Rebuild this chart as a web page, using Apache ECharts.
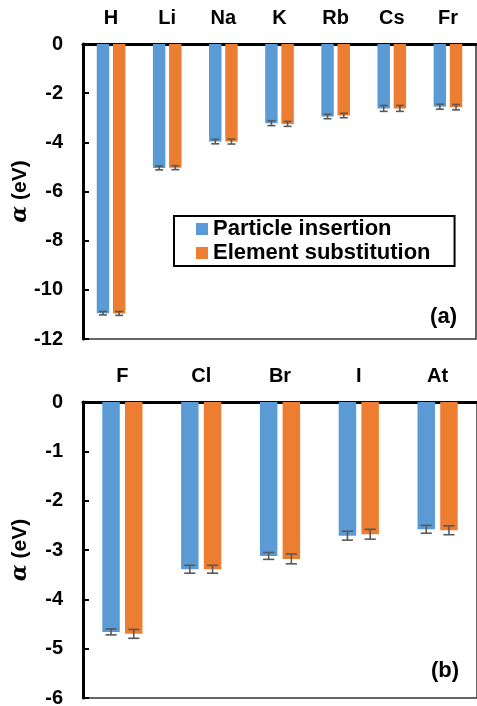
<!DOCTYPE html>
<html>
<head>
<meta charset="utf-8">
<script src="https://cdn.jsdelivr.net/npm/echarts@6/dist/echarts.min.js"></script>
<style>
  html, body { margin: 0; padding: 0; background: #fff; }
  #chart { width: 477px; height: 706px; }
</style>
</head>
<body>
<div id="chart"></div>
<script>
// panel (a): alkali metals + H
const catsA = ['H', 'Li', 'Na', 'K', 'Rb', 'Cs', 'Fr']
const insertA = [-10.95, -5.04, -3.97, -3.22, -2.95, -2.62, -2.55]
const substA = [-10.96, -5.03, -3.97, -3.25, -2.91, -2.62, -2.57]
const insertErrA = [0.07, 0.08, 0.09, 0.1, 0.09, 0.12, 0.1]
const substErrA = [0.08, 0.08, 0.1, 0.1, 0.09, 0.12, 0.11]

// panel (b): halogens
const catsB = ['F', 'Cl', 'Br', 'I', 'At']
const insertB = [-4.66, -3.39, -3.12, -2.71, -2.58]
const substB = [-4.70, -3.39, -3.18, -2.68, -2.60]
const insertErrB = [0.06, 0.08, 0.07, 0.09, 0.08]
const substErrB = [0.09, 0.08, 0.1, 0.1, 0.09]

const names = ['Particle insertion', 'Element substitution']
const colors = ['#5B9BD5', '#ED7D31']
const font = 'Liberation Sans, Arial, sans-serif'

const catGap = 0.49
const barGap = 0.3

function errItems (vals, errs) {
  return vals.map((v, i) => [i, v, errs[i]])
}

function errorSeries (idx, data, axis) {
  return {
    type: 'custom',
    xAxisIndex: axis,
    yAxisIndex: axis,
    z: 10,
    silent: true,
    data: data,
    encode: { x: 0, y: 1 },
    renderItem (params, api) {
      const x = api.value(0)
      const v = api.value(1)
      const e = api.value(2)
      const band = api.size([1, 0])[0]
      const w = band * (1 - catGap) / (2 + barGap)
      const off = (idx === 0 ? -1 : 1) * (0.5 + barGap / 2) * w
      const lo = api.coord([x, v - e])
      const hi = api.coord([x, v + e])
      const cx = lo[0] + off
      const h = w * 0.32
      const style = { stroke: '#595959', lineWidth: 1.6 }
      return {
        type: 'group',
        children: [
          { type: 'line', shape: { x1: cx, y1: lo[1], x2: cx, y2: hi[1] }, style },
          { type: 'line', shape: { x1: cx - h, y1: lo[1], x2: cx + h, y2: lo[1] }, style },
          { type: 'line', shape: { x1: cx - h, y1: hi[1], x2: cx + h, y2: hi[1] }, style }
        ]
      }
    }
  }
}

function barSeries (idx, data, axis) {
  return {
    name: names[idx],
    type: 'bar',
    xAxisIndex: axis,
    yAxisIndex: axis,
    data: data,
    barGap: (barGap * 100) + '%',
    barCategoryGap: (catGap * 100) + '%',
    itemStyle: { color: colors[idx] }
  }
}

function xAxisDef (cats, grid) {
  return {
    type: 'category',
    gridIndex: grid,
    data: cats,
    position: 'top',
    axisLine: { onZero: false, lineStyle: { color: '#000', width: 3 } },
    axisTick: { inside: true, length: 6, lineStyle: { color: '#000', width: 2 } },
    axisLabel: { color: '#000', fontFamily: font, fontWeight: 'bold', fontSize: 20, margin: 16 }
  }
}

function yAxisDef (min, step, grid) {
  return {
    type: 'value',
    gridIndex: grid,
    min: min,
    max: 0,
    interval: step,
    splitLine: { show: false },
    axisLine: { show: true, lineStyle: { color: '#000', width: 3 } },
    axisTick: { show: true, inside: true, length: 6, lineStyle: { color: '#000', width: 2 } },
    axisLabel: { color: '#000', fontFamily: font, fontWeight: 'bold', fontSize: 20, margin: 20 },
    name: '{a|α} (eV)',
    nameLocation: 'middle',
    nameGap: 52,
    nameRotate: 90,
    nameMoveOverlap: false,
    nameTextStyle: {
      color: '#000', fontFamily: font, fontWeight: 'bold', fontSize: 21,
      rich: { a: { fontFamily: 'DejaVu Serif', fontStyle: 'italic', fontSize: 22, color: '#000' } }
    }
  }
}

const chart = echarts.init(document.getElementById('chart'))
chart.setOption({
  animation: false,
  color: colors,
  grid: [
    { left: 83, top: 44, width: 393, height: 295, show: true, borderColor: '#333', borderWidth: 1.5, containLabel: false, outerBoundsMode: 'none' },
    { left: 83, top: 402, width: 394, height: 296, show: true, borderColor: '#333', borderWidth: 1.5, containLabel: false, outerBoundsMode: 'none' }
  ],
  legend: {
    data: names,
    orient: 'vertical',
    left: 174,
    top: 216,
    itemWidth: 12,
    itemHeight: 12,
    itemGap: 2,
    icon: 'rect',
    padding: [2, 24, 2, 22],
    borderColor: '#000',
    borderWidth: 2,
    textStyle: { color: '#000', fontFamily: font, fontWeight: 'bold', fontSize: 22, lineHeight: 22 }
  },
  xAxis: [xAxisDef(catsA, 0), xAxisDef(catsB, 1)],
  yAxis: [yAxisDef(-12, 2, 0), yAxisDef(-6, 1, 1)],
  graphic: [
    { type: 'text', right: 20, top: 306, style: { text: '(a)', fill: '#000', font: 'bold 22px ' + font } },
    { type: 'text', right: 18, top: 660, style: { text: '(b)', fill: '#000', font: 'bold 22px ' + font } }
  ],
  series: [
    barSeries(0, insertA, 0),
    barSeries(1, substA, 0),
    barSeries(0, insertB, 1),
    barSeries(1, substB, 1),
    errorSeries(0, errItems(insertA, insertErrA), 0),
    errorSeries(1, errItems(substA, substErrA), 0),
    errorSeries(0, errItems(insertB, insertErrB), 1),
    errorSeries(1, errItems(substB, substErrB), 1)
  ]
})
</script>
</body>
</html>
